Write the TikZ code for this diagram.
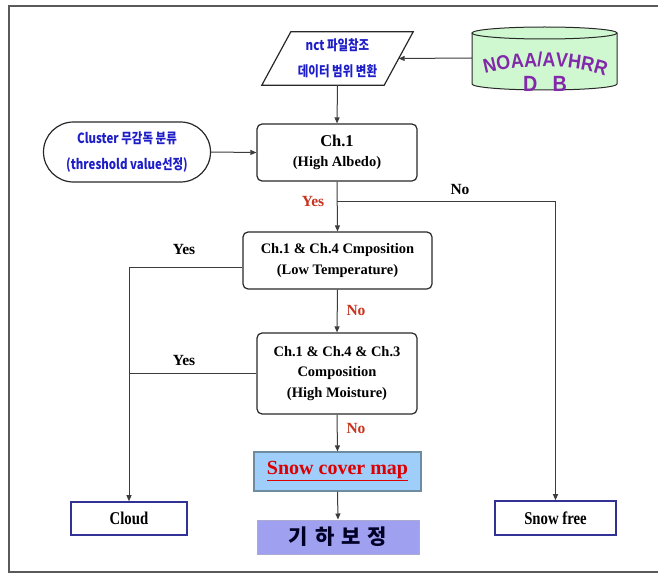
\documentclass[tikz,border=0pt]{standalone}
\usepackage{fontspec}
\setmainfont{Liberation Serif}
\newfontfamily\krfont[FakeStretch=0.82]{Noto Sans CJK KR}
\newfontfamily\krbig{Noto Sans CJK KR}
\newfontfamily\condserif[FakeStretch=0.82]{Liberation Serif}
\newfontfamily\noaafont[FakeStretch=0.9]{Liberation Sans}
\usetikzlibrary{arrows.meta,shapes.misc,decorations.text,calc}
\definecolor{boxline}{RGB}{40,40,40}
\definecolor{lineclr}{RGB}{60,60,60}
\definecolor{frameclr}{RGB}{90,90,90}
\definecolor{kblue}{RGB}{30,30,200}
\definecolor{lblred}{RGB}{200,50,30}
\definecolor{navybox}{RGB}{50,50,150}
\definecolor{dbgreen}{RGB}{208,248,208}
\definecolor{scmfill}{RGB}{160,206,250}
\definecolor{scmline}{RGB}{110,140,160}
\definecolor{khfill}{RGB}{160,160,240}
\definecolor{khline}{RGB}{170,170,210}
\definecolor{noaa}{RGB}{130,40,170}
\definecolor{mapred}{RGB}{220,0,0}
\begin{document}
\begin{tikzpicture}[x=1pt,y=-1pt,
  box/.style={draw=boxline, line width=1.2pt, rounded corners=5pt, align=center, inner sep=0pt, fill=white,
    font=\bfseries\fontsize{14.5}{20.5}\selectfont},
  lbl/.style={font=\bfseries\fontsize{15.5}{18}\selectfont, inner sep=0pt},
  conn/.style={draw=lineclr, line width=1pt},
  arr/.style={conn, -{Triangle[length=6pt,width=5pt]}},
  outbox/.style={draw=navybox, line width=1.6pt, fill=white, inner sep=0pt, font=\condserif\bfseries\fontsize{18}{20}\selectfont},
  krtext/.style={text=kblue, align=center, inner sep=0pt, font=\krfont\bfseries\fontsize{14}{26}\selectfont}
]
\useasboundingbox (0,0) rectangle (658,575);
% outer frame
\draw[frameclr, line width=2pt] (660,6) -- (9,6) -- (9,572) -- (660,572);

% cylinder NOAA/AVHRR DB
\fill[dbgreen] (472,33) -- (472,84) arc[start angle=180, end angle=360, x radius=72.5pt, y radius=6pt]
   -- (617,33) arc[start angle=0, end angle=180, x radius=72.5pt, y radius=6pt] -- cycle;
\draw[boxline, line width=1pt] (472,33) -- (472,84) arc[start angle=180, end angle=360, x radius=72.5pt, y radius=6pt] -- (617,33);
\draw[boxline, line width=1pt] (544.5,33) ellipse[x radius=72.5pt, y radius=6pt];
\node[minimum width=145pt, minimum height=63pt, inner sep=0pt] (db) at (544.5,58) {};
\path[decorate, decoration={text along path, text align=center, text color=noaa,
   text={|\noaafont\bfseries\fontsize{20}{20}\selectfont|NOAA/AVHRR}}]
   (476,76) .. controls (514,63) and (576,63) .. (614,79);
\node[text=noaa, inner sep=0pt, font=\noaafont\bfseries\fontsize{22}{22}\selectfont] (dbtxt) at (545,84) {D\hspace{0.7em}B};

% parallelogram
\node[minimum width=122pt, minimum height=53pt, inner sep=0pt] (p) at (337.5,58.5) {};
\draw[boxline, line width=1.2pt, fill=white] ($(p.north west)+(14.5,0)$) -- ($(p.north east)+(14.5,0)$)
   -- ($(p.south east)+(-14.5,0)$) -- ($(p.south west)+(-14.5,0)$) -- cycle;
\node[krtext] at (p.center) {nct 파일참조\\데이터 범위 변환};

% cluster
\node[draw=boxline, line width=1.2pt, rounded rectangle, minimum width=167pt, minimum height=60pt,
  inner sep=0pt, krtext] (cl) at (127,152) {Cluster 무감독 분류\\(threshold value선정)};

% decision boxes
\node[box, minimum width=160pt, minimum height=57pt] (ch1) at (337,152.5)
  {{\fontsize{16.5}{20}\selectfont Ch.1}\\(High Albedo)};
\node[box, minimum width=189pt, minimum height=57pt] (c14) at (337.5,260.5)
  {Ch.1 \& Ch.4 Cmposition\\(Low Temperature)};
\node[box, minimum width=160pt, minimum height=81pt] (c143) at (337,373.5)
  {Ch.1 \& Ch.4 \& Ch.3\\Composition\\(High Moisture)};

% result boxes
\node[draw=scmline, line width=1.2pt, fill=scmfill, minimum width=167pt, minimum height=39pt, inner sep=0pt,
  text=mapred, font=\bfseries\fontsize{20}{22}\selectfont] (scm) at (337.5,471.5) {\underline{Snow cover map}};
\node[draw=khline, line width=1pt, fill=khfill, minimum width=162pt, minimum height=34pt, inner sep=0pt,
  text=black!85!blue, font=\krbig\bfseries\fontsize{21}{22}\selectfont] (kh) at (338,537) {기\,\,하\,\,보\,\,정};
\node[outbox, minimum width=116pt, minimum height=33pt] (cloud) at (129,518.5) {Cloud};
\node[outbox, minimum width=121pt, minimum height=34pt] (sf) at (555.5,518) {Snow free};

% connectors
\draw[arr] (db.west) -- (p.east);
\draw[arr] (p.south) -- (ch1.north);
\draw[arr] (cl.east) -- (ch1.west);
\draw[arr] (ch1.south) -- (c14.north);
\coordinate (b1) at ($(ch1.south)+(0,20)$);
\draw[arr] (b1) -| (sf.north);
\coordinate (b2) at ($(c14.west)+(0,6.5)$);
\draw[arr] (b2) -| (cloud.north);
\draw[conn] (c143.west) -- (c143.west -| cloud.north);
\draw[arr] (c14.south) -- (c143.north);
\draw[arr] (c143.south) -- (scm.north);
\draw[arr] (scm.south) -- (kh.north);

% labels
\node[lbl, text=lblred] (y1) at (313,201) {Yes};
\node[lbl] (n1) at (460,189) {No};
\node[lbl] (y2) at (184,249) {Yes};
\node[lbl] (y3) at (184,360) {Yes};
\node[lbl, text=lblred] (n2) at (356,310) {No};
\node[lbl, text=lblred] (n3) at (356,428) {No};
\end{tikzpicture}
\end{document}
